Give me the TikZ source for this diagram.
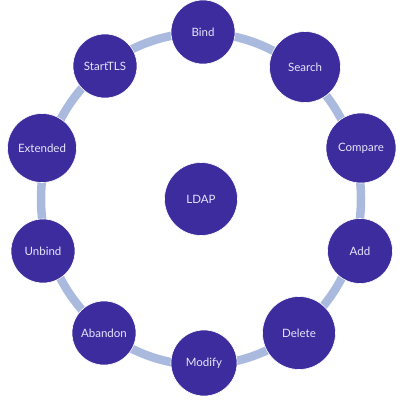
\documentclass[tikz,border=0pt]{standalone}
\usepackage{fontspec}
\setmainfont{Lato}
\definecolor{ringblue}{RGB}{170,186,223}
\definecolor{opfill}{RGB}{60,44,158}
\definecolor{optext}{RGB}{232,228,252}

\begin{document}
\begin{tikzpicture}[x=1pt,y=-1pt,
  op/.style={circle,fill=opfill,draw=white,line width=0.6pt,text=optext,
    inner sep=0pt,minimum size=#1,font=\fontsize{11.5}{13}\selectfont},
  op/.default=64pt]
  \useasboundingbox (0,0) rectangle (404,400);

  % ring behind the operations
  \draw[ringblue,line width=8.5pt] (201,199) ellipse[x radius=160,y radius=166];

  \node[op=73pt] (ldap) at (201,199) {LDAP};

  % operations, clockwise from the top
  \node[op] (bind) at (203,32) {Bind};
  \node[op=71pt] (search) at (305,67) {Search};
  \node[op=70pt] (compare) at (361,148) {Compare};
  \node[op=65pt] (add) at (360,251) {Add};
  \node[op=73pt] (delete) at (299,333) {Delete};
  \node[op=66pt] (modify) at (204,363) {Modify};
  \node[op] (abandon) at (104,333) {Abandon};
  \node[op] (unbind) at (43,251) {Unbind};
  \node[op=69pt] (extended) at (42,148) {Extended};
  \node[op] (starttls) at (105,66) {StartTLS};
\end{tikzpicture}
\end{document}
